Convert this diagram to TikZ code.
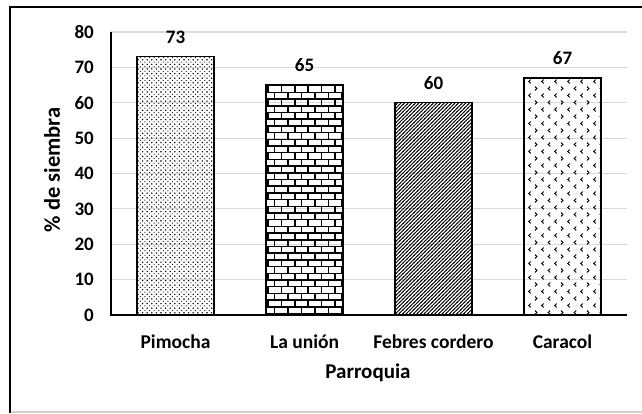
\documentclass[tikz,border=0pt]{standalone}
\usepackage{fontspec}
\setmainfont{Carlito}
\usepackage{tikz}
\usetikzlibrary{patterns}

\pgfdeclarepatternformonly{finedots}{\pgfpoint{-1pt}{-1pt}}{\pgfpoint{5.6pt}{5.6pt}}{\pgfpoint{4.6pt}{4.6pt}}
{
  \pgfpathcircle{\pgfpoint{0pt}{0pt}}{0.8pt}
  \pgfpathcircle{\pgfpoint{2.3pt}{2.3pt}}{0.6pt}
  \pgfusepath{fill}
}
\pgfdeclarepatternformonly{brickwall}{\pgfpoint{-1pt}{-1pt}}{\pgfpoint{14.4pt}{14.4pt}}{\pgfpoint{13.4pt}{13.4pt}}
{
  \pgfsetlinewidth{1.5pt}
  \pgfpathmoveto{\pgfpoint{0pt}{0pt}}\pgfpathlineto{\pgfpoint{13.4pt}{0pt}}
  \pgfpathmoveto{\pgfpoint{0pt}{6.7pt}}\pgfpathlineto{\pgfpoint{13.4pt}{6.7pt}}
  \pgfpathmoveto{\pgfpoint{0pt}{0pt}}\pgfpathlineto{\pgfpoint{0pt}{6.7pt}}
  \pgfpathmoveto{\pgfpoint{6.7pt}{6.7pt}}\pgfpathlineto{\pgfpoint{6.7pt}{13.4pt}}
  \pgfusepath{stroke}
}
\pgfdeclarepatternformonly{hatchlines}{\pgfpoint{-1pt}{-1pt}}{\pgfpoint{4.6pt}{4.6pt}}{\pgfpoint{3.6pt}{3.6pt}}
{
  \pgfsetlinewidth{0.9pt}
  \pgfpathmoveto{\pgfpoint{-0.5pt}{-0.5pt}}\pgfpathlineto{\pgfpoint{4.1pt}{4.1pt}}
  \pgfusepath{stroke}
}
\pgfdeclarepatternformonly{chevrons}{\pgfpoint{-1pt}{-1pt}}{\pgfpoint{27pt}{15pt}}{\pgfpoint{26pt}{14pt}}
{
  \pgfsetlinewidth{1pt}
  \pgfpathmoveto{\pgfpoint{4.2pt}{1.6pt}}\pgfpathlineto{\pgfpoint{2.2pt}{3.5pt}}\pgfpathlineto{\pgfpoint{4.2pt}{5.4pt}}
  \pgfpathmoveto{\pgfpoint{15pt}{1.6pt}}\pgfpathlineto{\pgfpoint{17pt}{3.5pt}}\pgfpathlineto{\pgfpoint{15pt}{5.4pt}}
  \pgfpathmoveto{\pgfpoint{10.7pt}{8.6pt}}\pgfpathlineto{\pgfpoint{8.7pt}{10.5pt}}\pgfpathlineto{\pgfpoint{10.7pt}{12.4pt}}
  \pgfpathmoveto{\pgfpoint{23.7pt}{8.6pt}}\pgfpathlineto{\pgfpoint{21.7pt}{10.5pt}}\pgfpathlineto{\pgfpoint{23.7pt}{12.4pt}}
  \pgfusepath{stroke}
}

\begin{document}
\begin{tikzpicture}[x=1pt,y=1pt,
  gridline/.style={gray!30, line width=1.2pt},
  axisline/.style={black, line width=1.6pt},
  bar/.style={draw=black, line width=1.4pt},
  ticklabel/.style={anchor=east, font=\fontsize{19}{22}\selectfont\bfseries, inner sep=0pt},
  vallabel/.style={anchor=south, font=\fontsize{19}{22}\selectfont\bfseries, inner sep=0pt},
  catlabel/.style={font=\fontsize{19.5}{22}\selectfont\bfseries, inner sep=0pt},
  titlelabel/.style={font=\fontsize{21}{24}\selectfont\bfseries, inner sep=0pt}]
\useasboundingbox (-111,-99) rectangle (531,315);
% frame
\draw[gray!35, line width=2pt] (-101,-97) -- (531,-97);
\draw[black, line width=2.2pt] (531,308) -- (-101,308) -- (-101,-98);
% grid and ticks
\foreach \v in {10,20,...,80}
  \draw[gridline] (0,3.5375*\v) -- (516,3.5375*\v);
\foreach \v in {0,10,...,80}
  \node[ticklabel] (tick\v) at (-17,3.5375*\v) {\v};
% bars
\draw[bar, pattern=finedots]   (26,0) rectangle (103,3.5375*73);
\draw[bar, pattern=brickwall]  (155,0) rectangle (232,3.5375*65);
\draw[bar, pattern=hatchlines] (284,0) rectangle (361,3.5375*60);
\draw[bar, pattern=chevrons]   (413,0) rectangle (490,3.5375*67);
\node[vallabel] (val1) at (64.5,3.5375*73+13) {73};
\node[vallabel] (val2) at (193.5,3.5375*65+13) {65};
\node[vallabel] (val3) at (322.5,3.5375*60+13) {60};
\node[vallabel] (val4) at (451.5,3.5375*67+13) {67};
% axes
\draw[axisline] (0,283) -- (0,0) -- (516,0);
\node[catlabel] (cat1) at (64.5,-27) {Pimocha};
\node[catlabel] (cat2) at (193.5,-27) {La unión};
\node[catlabel] (cat3) at (322.5,-27) {Febres cordero};
\node[catlabel] (cat4) at (451.5,-27) {Caracol};
\node[titlelabel] (xtitle) at (257,-58) {Parroquia};
\node[titlelabel, font=\fontsize{22.5}{26}\selectfont\bfseries, rotate=90] (ytitle) at (-59,145) {\% de siembra};
\end{tikzpicture}
\end{document}
